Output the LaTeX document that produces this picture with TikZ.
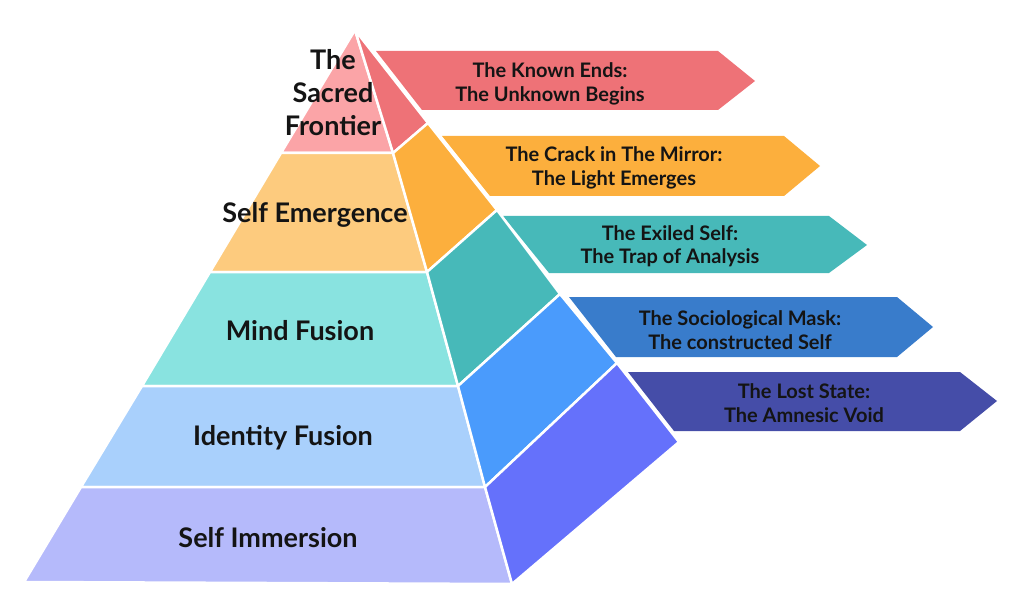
\documentclass[tikz,border=0pt]{standalone}
\usepackage{fontspec}
\setmainfont{Lato}
\usetikzlibrary{positioning}
\definecolor{FrontRose}{HTML}{FBA4A7}
\definecolor{FrontSand}{HTML}{FDCB7E}
\definecolor{FrontAqua}{HTML}{89E3E0}
\definecolor{FrontSky}{HTML}{A9D0FC}
\definecolor{FrontLilac}{HTML}{B5BAFB}
\definecolor{SideRed}{HTML}{EE7277}
\definecolor{SideAmber}{HTML}{FCAF3D}
\definecolor{SideTeal}{HTML}{47B9B9}
\definecolor{SideBlue}{HTML}{4A9BFC}
\definecolor{SideIndigo}{HTML}{6571FB}
\definecolor{TagBlue}{HTML}{397CCB}
\definecolor{TagNavy}{HTML}{454DA8}

\begin{document}
\begin{tikzpicture}[x=1pt,y=-1pt,
  face/.style={draw=white,line width=2.5pt,line join=round},
  tier/.style={font=\fontsize{27}{33}\selectfont\bfseries,text=black!92,align=center},
  tag/.style={font=\fontsize{20}{23.5}\selectfont\bfseries,text=black!92,align=center}]
  \useasboundingbox (0,0) rectangle (1024,612);
  % banners behind the pyramid
  \fill[SideRed] (376,51)--(718,51)--(755,81)--(718,110)--(422,110)--cycle;
  \fill[SideAmber] (442,136)--(784,136)--(820,166)--(784,196)--(490,196)--cycle;
  \fill[SideTeal] (503,216)--(829,216)--(867,245)--(829,273)--(549,273)--cycle;
  \fill[TagBlue] (569,297)--(897,297)--(933,327)--(897,357)--(616,357)--cycle;
  \fill[TagNavy] (628,372)--(960,372)--(997,401)--(960,431)--(674,431)--cycle;
  % front face
  \filldraw[face,fill=FrontRose] (355,30)--(393,153)--(281,153)--cycle;
  \filldraw[face,fill=FrontSand] (281,153)--(393,153)--(427,272)--(210,272)--cycle;
  \filldraw[face,fill=FrontAqua] (210,272)--(427,272)--(458,386)--(142,386)--cycle;
  \filldraw[face,fill=FrontSky] (142,386)--(458,386)--(485,487)--(81,487)--cycle;
  \filldraw[face,fill=FrontLilac] (81,487)--(485,487)--(512,584)--(24,582)--cycle;
  % side face
  \filldraw[face,fill=SideRed] (355,30)--(428,123)--(393,153)--cycle;
  \filldraw[face,fill=SideAmber] (393,153)--(428,123)--(497,210)--(427,272)--cycle;
  \filldraw[face,fill=SideTeal] (427,272)--(497,210)--(560,294)--(458,386)--cycle;
  \filldraw[face,fill=SideBlue] (458,386)--(560,294)--(617,363)--(485,487)--cycle;
  \filldraw[face,fill=SideIndigo] (485,487)--(617,363)--(679,442)--(512,584)--cycle;
  % tier labels
  \node[tier] (frontier) at (333,93) {The\\Sacred\\Frontier};
  \node[tier] (emergence) at (315,215) {Self Emergence};
  \node[tier] (mindfusion) at (300,331) {Mind Fusion};
  \node[tier] (identity) at (283,438) {Identity Fusion};
  \node[tier] (immersion) at (268,538) {Self Immersion};
  % banner labels
  \node[tag] (knownends) at (550,84) {The Known Ends:\\The Unknown Begins};
  \node[tag] (crack) at (614,168) {The Crack in The Mirror:\\The Light Emerges};
  \node[tag] (exiled) at (670,246) {The Exiled Self:\\The Trap of Analysis};
  \node[tag] (mask) at (740,330) {The Sociological Mask:\\The constructed Self};
  \node[tag] (lost) at (804,403) {The Lost State:\\The Amnesic Void};
\end{tikzpicture}
\end{document}
